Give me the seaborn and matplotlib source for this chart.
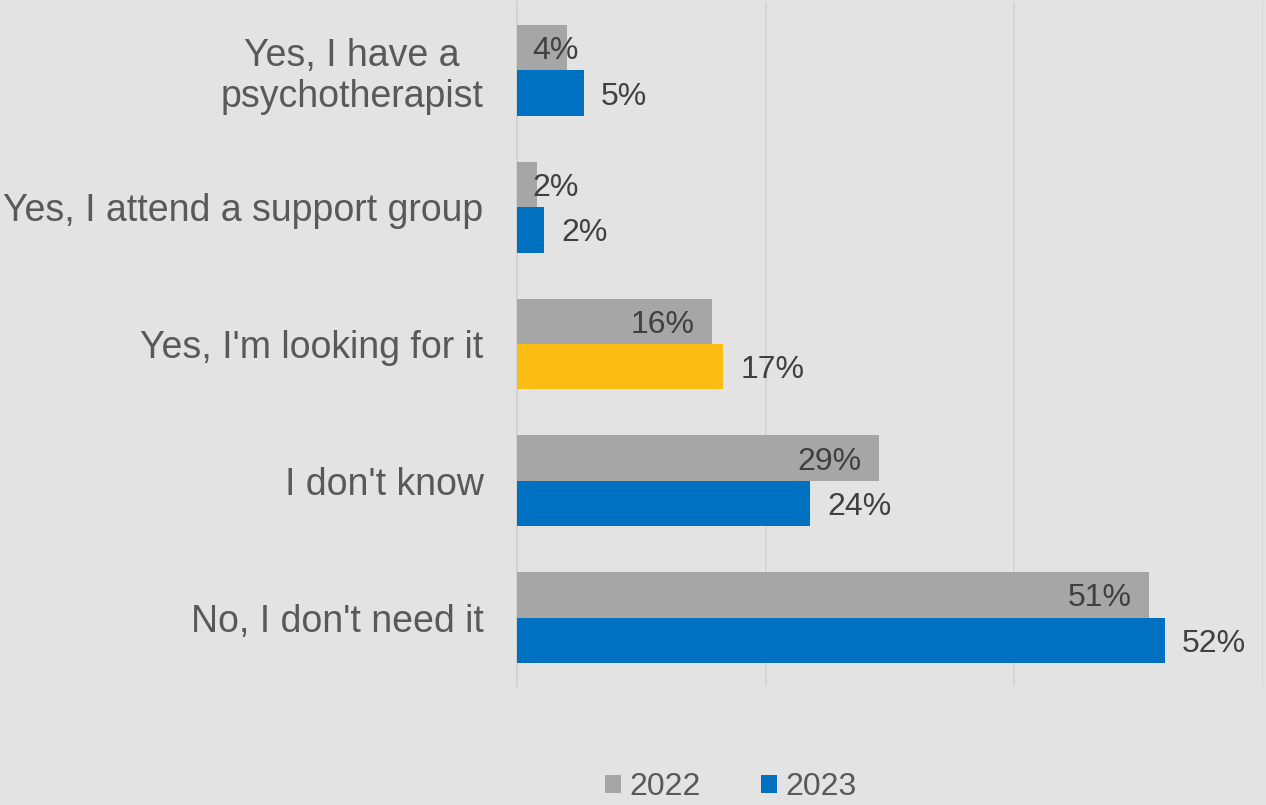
import pandas as pd
import seaborn as sns
import matplotlib.pyplot as plt
from matplotlib.ticker import FixedLocator

categories = ["Yes, I have a\npsychotherapist", "Yes, I attend a support group",
              "Yes, I'm looking for it", "I don't know", "No, I don't need it"]
years = ["2022", "2023"]
values_2022 = [4.0, 1.6, 15.7, 29.1, 50.8]
values_2023 = [5.4, 2.2, 16.6, 23.6, 52.1]
highlight = "Yes, I'm looking for it"

df = pd.DataFrame({
    'answer': categories * 2,
    'year': [years[0]] * len(categories) + [years[1]] * len(categories),
    'share': values_2022 + values_2023,
})

bg = '#e3e3e3'
grey_bar = '#a6a6a6'
blue_bar = '#0070c0'
yellow_bar = '#fbbd13'

sns.set_style('white')
plt.rcParams['font.family'] = ['Liberation Sans', 'DejaVu Sans']

fig = plt.figure(figsize=(12.66, 8.05), dpi=100, facecolor=bg)
ax = fig.add_axes([517 / 1266, 1 - 686 / 805, (1263 - 517) / 1266, 684 / 805])
ax.set_facecolor(bg)

sns.barplot(data=df, y='answer', x='share', hue='year', order=categories,
            hue_order=years, palette=[grey_bar, blue_bar], orient='h',
            width=0.665, gap=0, saturation=1, linewidth=0, ax=ax, zorder=3)

# highlight one 2023 bar
ax.containers[1][categories.index(highlight)].set_facecolor(yellow_bar)

ax.set_xlim(0, 60)
ax.set_ylim(len(categories) - 0.5, -0.5)
ax.set_xlabel('')
ax.set_ylabel('')

ax.xaxis.set_major_locator(FixedLocator([20, 40, 60]))
ax.set_xticklabels([])
ax.tick_params(axis='x', length=0)
ax.grid(axis='x', color='#d2d2d2', linewidth=1.2, zorder=0)
ax.grid(axis='y', visible=False)

ax.tick_params(axis='y', which='major', length=0, pad=24, labelsize=27, labelcolor='#595959')
ax.yaxis.set_minor_locator(FixedLocator([i - 0.5 for i in range(len(categories) + 1)]))
ax.tick_params(axis='y', which='minor', length=9, color='#cfcfcf', width=1.2)
for lab in ax.get_yticklabels():
    lab.set_multialignment('center')
    lab.set_linespacing(1.15)

for side in ['top', 'right', 'bottom']:
    ax.spines[side].set_visible(False)
ax.spines['left'].set_color('#cfcfcf')
ax.spines['left'].set_linewidth(1.2)

# data labels
for bar, v in zip(ax.containers[0], values_2022):
    yc = bar.get_y() + bar.get_height() / 2
    if v < 6:
        ax.annotate(f"{v:.0f}%", xy=(0, yc), xytext=(11, 0), textcoords='offset points',
                    ha='left', va='center_baseline', fontsize=23, color='#404040', zorder=4)
    else:
        ax.annotate(f"{v:.0f}%", xy=(v, yc), xytext=(-12.5, 0), textcoords='offset points',
                    ha='right', va='center_baseline', fontsize=23, color='#404040', zorder=4)

for bar, v in zip(ax.containers[1], values_2023):
    yc = bar.get_y() + bar.get_height() / 2
    ax.annotate(f"{v:.0f}%", xy=(v, yc), xytext=(12.2, 0), textcoords='offset points',
                ha='left', va='center_baseline', fontsize=23, color='#404040', zorder=4)

handles, labels = ax.get_legend_handles_labels()
ax.get_legend().remove()
fig.legend(handles, labels, loc='center', bbox_to_anchor=(731 / 1266, 1 - 787 / 805),
           ncol=2, frameon=False, fontsize=23, labelcolor='#595959',
           handlelength=0.5, handleheight=0.5, handletextpad=0.25, columnspacing=1.9)

fig.savefig('out.png', dpi=100, facecolor=bg)
